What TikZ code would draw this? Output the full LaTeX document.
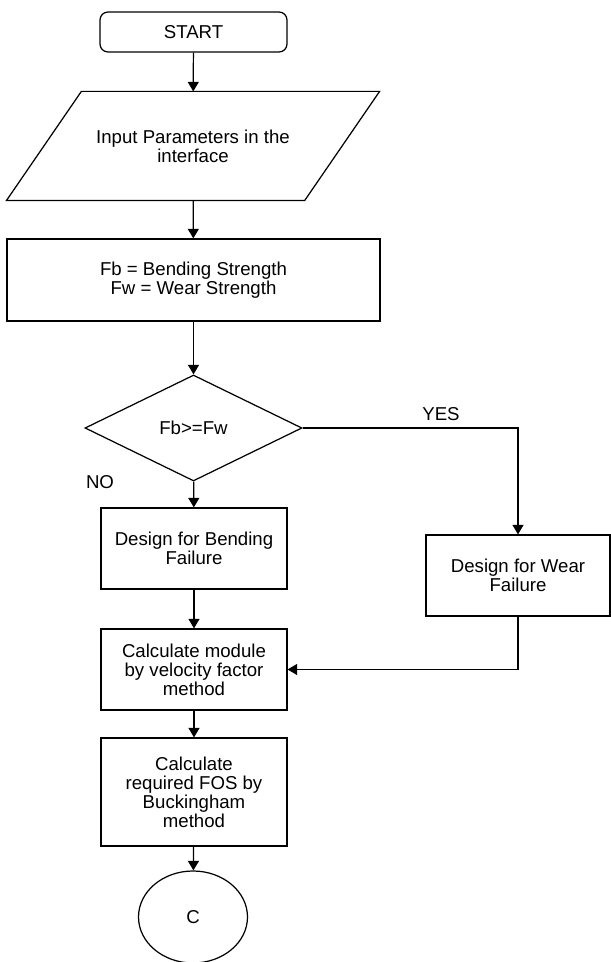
\documentclass[tikz,border=0pt]{standalone}
\usepackage{fontspec}
\setmainfont{Liberation Sans}
\usetikzlibrary{shapes.geometric, arrows.meta}

\begin{document}
\begin{tikzpicture}[>={Triangle[length=1.9mm, width=2.2mm]}, line width=0.7pt,
    every node/.style={font=\fontsize{10.6}{10.8}\selectfont, align=center, inner sep=0pt},
    procbox/.style={draw, minimum width=3.72cm, minimum height=1.62cm},
    flowline/.style={->, line width=0.7pt}]

        \useasboundingbox (0,0) rectangle (12.22,19.24);

        % Start and input
        \node[draw, rounded corners=0.16cm, minimum width=3.74cm, minimum height=0.8cm] (start) at (3.87,18.60) {START};
        \node[minimum width=7.44cm, minimum height=2.16cm] (input) at (3.86,16.32)
              {Input Parameters in the\\interface};
        \draw ([xshift=1.5cm]input.north west) -- (input.north east)
              -- ([xshift=-1.5cm]input.south east) -- (input.south west) -- cycle;

        % Strengths
        \node[procbox, minimum width=7.46cm, minimum height=1.64cm] (strength) at (3.87,13.64)
              {Fb = Bending Strength\\Fw = Wear Strength};

        % Decision
        \node[draw, diamond, minimum width=4.34cm, minimum height=2.12cm] (check) at (3.87,10.68) {Fb>=Fw};
        \node at (8.82,10.96) {YES};
        \node at (2.0,9.60) {NO};

        % Two design cases
        \node[procbox] (bending) at (3.88,8.27) {Design for Bending\\Failure};
        \node[procbox, minimum width=3.68cm] (wear) at (10.36,7.73) {Design for Wear\\Failure};

        % Calculations
        \node[procbox] (module) at (3.88,5.85) {Calculate module\\by velocity factor\\method};
        \node[procbox, minimum height=2.16cm] (fos) at (3.88,3.40) {Calculate\\required FOS by\\Buckingham\\method};

        % Connector
        \node[draw, ellipse, minimum width=2.18cm, minimum height=1.84cm] (conn) at (3.86,0.90) {C};

        % Arrows
        \draw[flowline] (start) -- (input);
        \draw[flowline] (input) -- (strength);
        \draw[flowline] (strength) -- (check);
        \draw[flowline] (check) -- (bending);
        \draw[flowline] (check.east) -| (wear.north);
        \draw[flowline] (bending) -- (module);
        \draw[flowline] (wear.south) |- (module.east);
        \draw[flowline] (module) -- (fos);
        \draw[flowline] (fos) -- (conn);

\end{tikzpicture}
\end{document}
